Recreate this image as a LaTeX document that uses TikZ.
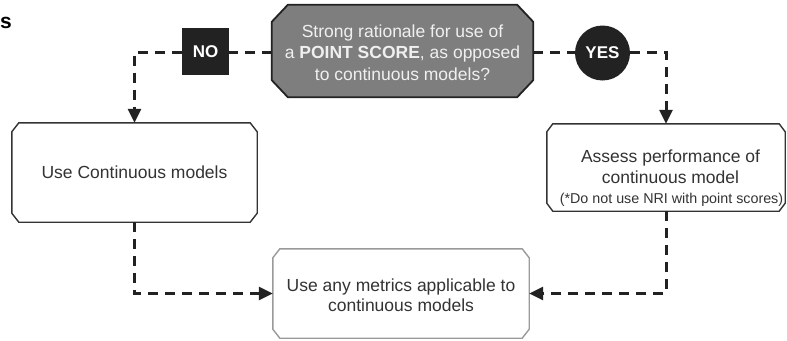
\documentclass[tikz,border=0pt]{standalone}
\usepackage{fontspec}
\setmainfont{Liberation Sans}
\usetikzlibrary{arrows.meta}
\pgfdeclarelayer{background}
\pgfsetlayers{background,main}
\definecolor{octfill}{HTML}{7E7E7E}
\definecolor{octtext}{HTML}{F0F0F0}
\definecolor{boxtext}{HTML}{333333}
\definecolor{lineclr}{HTML}{222222}
\definecolor{lightedge}{HTML}{9A9A9A}
\newcommand{\chamferpath}[3]{([xshift=#2]#1.north west) -- ([xshift=-#2]#1.north east) -- ([yshift=-#3]#1.north east) -- ([yshift=#3]#1.south east) -- ([xshift=-#2]#1.south east) -- ([xshift=#2]#1.south west) -- ([yshift=#3]#1.south west) -- ([yshift=-#3]#1.north west) -- cycle}
\tikzset{
  x=1pt,y=1pt,
  boxarea/.style={rectangle, inner sep=0pt, align=center, text=boxtext,
    font=\fontsize{17.5}{20}\selectfont},
  boxedge/.style={draw=boxtext, line width=1.4pt, fill=white},
  lightboxedge/.style={draw=lightedge, line width=1.4pt, fill=white},
  octedge/.style={draw=lineclr, line width=1.8pt, fill=octfill},
  txt/.style={inner sep=0pt, anchor=base, text=boxtext, font=\fontsize{17.5}{20}\selectfont},
  label box/.style={fill=lineclr, text=white, inner sep=0pt, font=\bfseries\fontsize{17}{20}\selectfont},
  flow/.style={draw=lineclr, line width=3pt, dash pattern=on 10pt off 7pt},
  flowarrow/.style={flow, -{Triangle[length=14pt,width=13pt]}},
}
\begin{document}
\begin{tikzpicture}
\useasboundingbox (0,0) rectangle (787,-340);
\node[anchor=base west, font=\bfseries\fontsize{21}{24}\selectfont, text=black, inner sep=0pt] (frag) at (0,-28) {s};

% decision
\node[boxarea, minimum width=261pt, minimum height=92pt] (oct) at (402.5,-51) {};
\node[txt, text=octtext] (oct1) at (402.5,-37) {Strong rationale for use of};
\node[txt, text=octtext] (oct2) at (402.5,-58.5) {a \textbf{POINT SCORE}, as opposed};
\node[txt, text=octtext] (oct3) at (402.5,-80) {to continuous models?};

\node[label box, rectangle, minimum width=47pt, minimum height=47pt] (no) at (205.5,-51.5) {NO};
\node[label box, circle, minimum size=55pt] (yes) at (602.5,-53) {YES};

% boxes
\node[boxarea, minimum width=245pt, minimum height=99pt] (left) at (134.5,-172.5) {Use Continuous models};

\node[boxarea, minimum width=238pt, minimum height=87pt] (right) at (666,-167.5) {};
\node[txt] (right1) at (670.5,-162) {Assess performance of};
\node[txt] (right2) at (670.5,-183) {continuous model};
\node[txt, font=\fontsize{14.3}{17}\selectfont] (right3) at (671.5,-203) {(*Do not use NRI with point scores)};

\node[boxarea, minimum width=256pt, minimum height=89pt] (bottom) at (401,-293.5) {};
\node[txt] (bottom1) at (401,-291.5) {Use any metrics applicable to};
\node[txt] (bottom2) at (401,-311) {continuous models};

\begin{pgfonlayer}{background}
  \path[octedge] \chamferpath{oct}{16pt}{17pt};
  \path[boxedge] \chamferpath{left}{7pt}{9pt};
  \path[boxedge] \chamferpath{right}{6pt}{8pt};
  \path[lightboxedge] \chamferpath{bottom}{7pt}{9pt};
\end{pgfonlayer}

% connectors
\draw[flow] (oct.west |- 0,-52) -- (no.east |- 0,-52);
\draw[flowarrow] (no.west |- 0,-52) -| (left.north);
\draw[flow] (oct.east |- 0,-52) -- (yes.west |- 0,-52);
\draw[flowarrow] (yes.east |- 0,-52) -| (right.north);
\draw[flowarrow] (left.south) |- (bottom.west);
\draw[flowarrow] (right.south) |- (bottom.east);
\end{tikzpicture}
\end{document}
